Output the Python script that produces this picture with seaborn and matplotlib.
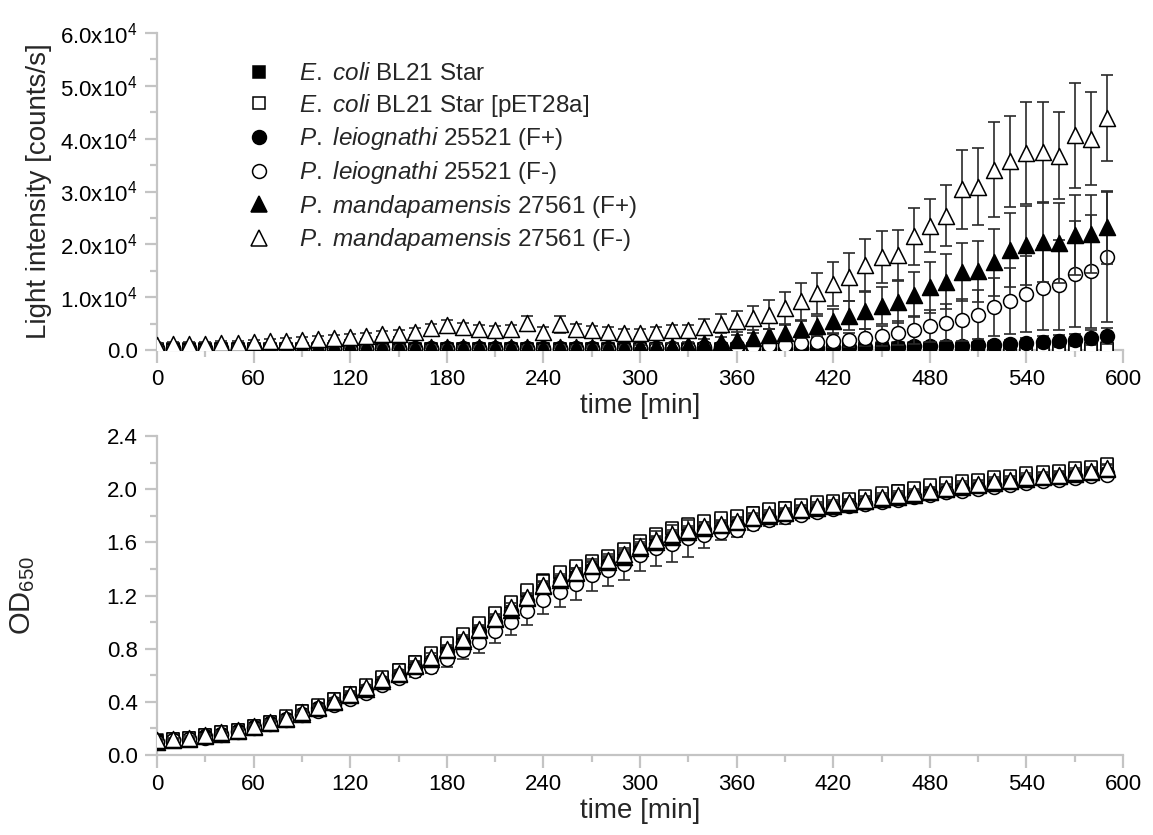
import matplotlib
matplotlib.use("Agg")
import matplotlib.pyplot as plt
import seaborn as sns
from matplotlib.lines import Line2D
from matplotlib.ticker import MultipleLocator, FuncFormatter

# ---------------- data ----------------
time = [0, 10, 20, 30, 40, 50, 60, 70, 80, 90,
        100, 110, 120, 130, 140, 150, 160, 170, 180, 190,
        200, 210, 220, 230, 240, 250, 260, 270, 280, 290,
        300, 310, 320, 330, 340, 350, 360, 370, 380, 390,
        400, 410, 420, 430, 440, 450, 460, 470, 480, 490,
        500, 510, 520, 530, 540, 550, 560, 570, 580, 590]

labels = [r"$\mathit{E.}$ $\mathit{coli}$ BL21 Star",
          r"$\mathit{E.}$ $\mathit{coli}$ BL21 Star [pET28a]",
          r"$\mathit{P.}$ $\mathit{leiognathi}$ 25521 (F+)",
          r"$\mathit{P.}$ $\mathit{leiognathi}$ 25521 (F-)",
          r"$\mathit{P.}$ $\mathit{mandapamensis}$ 27561 (F+)",
          r"$\mathit{P.}$ $\mathit{mandapamensis}$ 27561 (F-)"]

# Light intensity [counts/s]
li_ec = [250, 200, 200, 200, 200, 200, 200, 200, 200, 200,
         200, 200, 200, 200, 200, 200, 200, 200, 200, 200,
         200, 200, 200, 200, 200, 200, 200, 200, 200, 200,
         200, 200, 200, 200, 200, 200, 200, 200, 200, 200,
         200, 200, 200, 200, 200, 200, 200, 200, 200, 200,
         200, 200, 200, 200, 200, 200, 200, 200, 200, 200]
li_ec_err = [80, 80, 80, 80, 80, 80, 80, 80, 80, 80,
             80, 80, 80, 80, 80, 80, 80, 80, 80, 80,
             80, 80, 80, 80, 80, 80, 80, 80, 80, 80,
             80, 80, 80, 80, 80, 80, 80, 80, 80, 80,
             80, 80, 80, 80, 80, 80, 80, 80, 80, 80,
             80, 80, 80, 80, 80, 80, 80, 80, 80, 80]
li_ecp = [250, 200, 200, 200, 200, 200, 200, 200, 200, 200,
          200, 200, 200, 200, 200, 200, 200, 200, 200, 200,
          200, 200, 200, 200, 200, 200, 200, 200, 200, 200,
          250, 250, 250, 250, 250, 250, 250, 250, 250, 250,
          300, 300, 300, 300, 300, 300, 300, 300, 350, 350,
          350, 350, 400, 400, 400, 400, 400, 400, 400, 400]
li_ecp_err = [100, 100, 100, 100, 100, 100, 100, 100, 100, 100,
              100, 100, 100, 100, 100, 100, 100, 100, 100, 100,
              100, 100, 100, 100, 100, 100, 100, 100, 100, 100,
              100, 100, 100, 100, 100, 100, 100, 100, 100, 100,
              100, 100, 100, 100, 100, 100, 100, 100, 100, 100,
              100, 100, 100, 100, 100, 100, 100, 100, 100, 100]
li_plfp = [300, 300, 300, 300, 300, 300, 300, 300, 300, 300,
           300, 300, 300, 300, 300, 300, 300, 300, 300, 300,
           300, 300, 300, 300, 300, 300, 300, 300, 300, 300,
           350, 350, 350, 350, 350, 400, 400, 400, 400, 450,
           450, 450, 500, 500, 550, 600, 650, 700, 750, 800,
           850, 900, 1000, 1100, 1400, 1600, 1700, 1900, 2300, 2600]
li_plfp_err = [100, 100, 100, 100, 100, 100, 100, 100, 100, 100,
               100, 100, 100, 100, 100, 100, 100, 100, 100, 100,
               100, 100, 100, 100, 100, 100, 100, 100, 100, 100,
               100, 100, 100, 100, 100, 100, 100, 120, 120, 130,
               150, 150, 200, 200, 250, 300, 300, 350, 400, 500,
               500, 600, 700, 800, 900, 1000, 1100, 1200, 1400, 1500]
li_plfm = [200, 200, 200, 200, 200, 200, 200, 200, 200, 200,
           200, 200, 200, 200, 200, 200, 250, 250, 250, 250,
           250, 250, 250, 250, 250, 250, 250, 250, 250, 250,
           300, 300, 400, 400, 500, 600, 700, 800, 900, 1000,
           1300, 1500, 1800, 1900, 2300, 2700, 3200, 3800, 4600, 5200,
           5700, 6700, 8100, 9300, 10600, 11700, 12300, 14400, 14900, 17600]
li_plfm_err = [100, 100, 100, 100, 100, 100, 100, 100, 100, 100,
               100, 100, 100, 100, 100, 100, 100, 100, 100, 100,
               100, 100, 100, 100, 100, 100, 100, 100, 100, 100,
               200, 200, 250, 300, 350, 400, 450, 500, 600, 700,
               900, 1000, 1200, 1300, 1600, 1900, 2200, 2600, 3000, 3500,
               4000, 4600, 5500, 6300, 7200, 8000, 8500, 10000, 10700, 12300]
li_pmfp = [600, 600, 600, 600, 600, 600, 600, 600, 600, 600,
           600, 600, 600, 600, 600, 600, 650, 650, 650, 650,
           650, 650, 650, 650, 650, 650, 650, 650, 650, 650,
           700, 750, 850, 1000, 1300, 1600, 1900, 2300, 2800, 3300,
           3900, 4600, 5500, 6500, 7400, 8400, 9100, 10500, 11900, 12900,
           14700, 14900, 16600, 19000, 19800, 20500, 20200, 21800, 22000, 23200]
li_pmfp_err = [200, 200, 200, 200, 200, 200, 200, 200, 200, 200,
               200, 200, 200, 200, 200, 200, 200, 200, 200, 200,
               200, 200, 200, 200, 200, 200, 200, 200, 200, 200,
               300, 400, 500, 600, 700, 800, 900, 1000, 1200, 1400,
               1600, 1900, 2200, 2700, 3500, 3500, 3900, 4300, 4800, 5200,
               5500, 5800, 6300, 7000, 7400, 7600, 7600, 7600, 7400, 6900]
li_pmfm = [1000, 1100, 1100, 1200, 1300, 1400, 1500, 1700, 1700, 1900,
           2100, 2300, 2400, 2700, 3000, 3100, 3500, 4100, 4700, 4300,
           3900, 3800, 3900, 5200, 3500, 4900, 3900, 3700, 3500, 3200,
           3200, 3500, 3800, 3800, 4400, 5000, 5400, 6000, 6700, 8000,
           9200, 10700, 12500, 13800, 16100, 17600, 18000, 21500, 23500, 25400,
           30400, 30900, 34100, 35700, 37300, 37400, 36800, 40600, 40000, 43900]
li_pmfm_err = [400, 400, 400, 400, 400, 400, 450, 450, 500, 500,
               500, 500, 550, 600, 600, 650, 700, 800, 900, 900,
               800, 800, 900, 1300, 900, 1600, 1000, 900, 800, 700,
               700, 800, 900, 1000, 1500, 1800, 2000, 2300, 2700, 3000,
               3500, 3800, 4100, 4500, 5000, 4900, 4800, 5400, 5000, 5800,
               7500, 7300, 9000, 8600, 9600, 9500, 8300, 10000, 8800, 8200]

# OD650
od_ec = [0.11, 0.12, 0.13, 0.15, 0.17, 0.19, 0.22, 0.25, 0.28, 0.33,
         0.37, 0.42, 0.47, 0.52, 0.58, 0.64, 0.70, 0.76, 0.83, 0.90,
         0.98, 1.06, 1.14, 1.23, 1.32, 1.37, 1.41, 1.455, 1.49, 1.54,
         1.60, 1.655, 1.70, 1.73, 1.755, 1.77, 1.79, 1.82, 1.84, 1.855,
         1.87, 1.89, 1.905, 1.92, 1.94, 1.96, 1.99, 2.005, 2.02, 2.04,
         2.05, 2.065, 2.08, 2.095, 2.105, 2.12, 2.13, 2.145, 2.16, 2.18]
od_ec_err = [0.01, 0.01, 0.01, 0.01, 0.01, 0.01, 0.01, 0.01, 0.01, 0.01,
             0.01, 0.01, 0.01, 0.01, 0.01, 0.02, 0.02, 0.02, 0.02, 0.02,
             0.02, 0.02, 0.02, 0.02, 0.02, 0.02, 0.02, 0.02, 0.02, 0.02,
             0.02, 0.02, 0.02, 0.02, 0.02, 0.02, 0.02, 0.02, 0.02, 0.02,
             0.02, 0.02, 0.02, 0.02, 0.02, 0.02, 0.02, 0.02, 0.02, 0.02,
             0.02, 0.02, 0.02, 0.02, 0.02, 0.02, 0.02, 0.02, 0.02, 0.02]
od_ecp = [0.10, 0.12, 0.13, 0.15, 0.17, 0.19, 0.22, 0.25, 0.29, 0.33,
          0.38, 0.42, 0.47, 0.53, 0.59, 0.64, 0.70, 0.77, 0.84, 0.91,
          0.99, 1.07, 1.15, 1.24, 1.31, 1.38, 1.42, 1.46, 1.50, 1.55,
          1.61, 1.66, 1.71, 1.74, 1.76, 1.78, 1.80, 1.82, 1.85, 1.86,
          1.88, 1.90, 1.91, 1.93, 1.95, 1.97, 1.99, 2.01, 2.03, 2.05,
          2.06, 2.07, 2.09, 2.10, 2.12, 2.13, 2.14, 2.16, 2.17, 2.19]
od_ecp_err = [0.01, 0.01, 0.01, 0.01, 0.01, 0.01, 0.01, 0.01, 0.01, 0.01,
              0.01, 0.01, 0.01, 0.02, 0.02, 0.02, 0.02, 0.02, 0.02, 0.02,
              0.02, 0.02, 0.02, 0.03, 0.03, 0.03, 0.03, 0.03, 0.03, 0.03,
              0.03, 0.03, 0.03, 0.03, 0.03, 0.03, 0.03, 0.03, 0.03, 0.03,
              0.03, 0.03, 0.03, 0.03, 0.03, 0.03, 0.03, 0.03, 0.03, 0.03,
              0.03, 0.03, 0.03, 0.03, 0.03, 0.03, 0.03, 0.03, 0.03, 0.03]
od_plfp = [0.10, 0.11, 0.12, 0.14, 0.16, 0.18, 0.21, 0.24, 0.27, 0.31,
           0.35, 0.39, 0.44, 0.49, 0.55, 0.60, 0.66, 0.71, 0.78, 0.85,
           0.93, 1.00, 1.08, 1.16, 1.25, 1.30, 1.35, 1.40, 1.44, 1.48,
           1.54, 1.59, 1.63, 1.66, 1.69, 1.71, 1.73, 1.76, 1.78, 1.80,
           1.82, 1.84, 1.86, 1.88, 1.89, 1.91, 1.93, 1.95, 1.97, 1.98,
           2.00, 2.01, 2.03, 2.04, 2.06, 2.07, 2.08, 2.10, 2.11, 2.12]
od_plfp_err = [0.01, 0.01, 0.01, 0.01, 0.01, 0.01, 0.01, 0.01, 0.01, 0.02,
               0.02, 0.02, 0.02, 0.02, 0.03, 0.03, 0.03, 0.03, 0.03, 0.04,
               0.04, 0.04, 0.04, 0.05, 0.05, 0.05, 0.05, 0.05, 0.05, 0.05,
               0.05, 0.05, 0.05, 0.05, 0.04, 0.04, 0.04, 0.04, 0.04, 0.04,
               0.04, 0.04, 0.04, 0.04, 0.04, 0.04, 0.04, 0.04, 0.04, 0.04,
               0.04, 0.04, 0.04, 0.04, 0.04, 0.04, 0.04, 0.04, 0.04, 0.04]
od_plfm = [0.10, 0.11, 0.12, 0.13, 0.15, 0.17, 0.20, 0.23, 0.26, 0.30,
           0.33, 0.38, 0.42, 0.47, 0.53, 0.58, 0.63, 0.665, 0.72, 0.79,
           0.85, 0.93, 1.00, 1.08, 1.17, 1.23, 1.29, 1.355, 1.39, 1.44,
           1.505, 1.555, 1.59, 1.63, 1.655, 1.68, 1.69, 1.74, 1.77, 1.79,
           1.806, 1.83, 1.85, 1.87, 1.89, 1.905, 1.92, 1.94, 1.96, 1.98,
           1.99, 2.00, 2.02, 2.03, 2.05, 2.06, 2.07, 2.085, 2.10, 2.11]
od_plfm_err = [0.01, 0.01, 0.01, 0.01, 0.01, 0.01, 0.01, 0.01, 0.02, 0.02,
               0.02, 0.02, 0.02, 0.03, 0.03, 0.04, 0.04, 0.05, 0.06, 0.07,
               0.08, 0.09, 0.10, 0.10, 0.11, 0.12, 0.12, 0.12, 0.12, 0.12,
               0.12, 0.13, 0.14, 0.14, 0.10, 0.06, 0.05, 0.05, 0.05, 0.05,
               0.04, 0.04, 0.04, 0.04, 0.04, 0.04, 0.04, 0.03, 0.03, 0.03,
               0.03, 0.03, 0.03, 0.03, 0.03, 0.03, 0.03, 0.03, 0.03, 0.03]
od_pmfp = [0.10, 0.11, 0.12, 0.14, 0.16, 0.18, 0.21, 0.24, 0.27, 0.31,
           0.35, 0.40, 0.45, 0.50, 0.56, 0.61, 0.67, 0.72, 0.79, 0.86,
           0.94, 1.02, 1.09, 1.18, 1.27, 1.32, 1.37, 1.42, 1.455, 1.49,
           1.555, 1.605, 1.64, 1.68, 1.705, 1.73, 1.75, 1.78, 1.80, 1.82,
           1.84, 1.86, 1.875, 1.89, 1.91, 1.925, 1.94, 1.96, 1.98, 2.00,
           2.015, 2.03, 2.045, 2.06, 2.075, 2.09, 2.10, 2.115, 2.13, 2.15]
od_pmfp_err = [0.01, 0.01, 0.01, 0.01, 0.01, 0.01, 0.01, 0.01, 0.01, 0.01,
               0.02, 0.02, 0.02, 0.02, 0.02, 0.02, 0.02, 0.02, 0.03, 0.03,
               0.03, 0.03, 0.03, 0.03, 0.03, 0.03, 0.03, 0.03, 0.03, 0.03,
               0.03, 0.03, 0.03, 0.03, 0.03, 0.03, 0.03, 0.03, 0.03, 0.03,
               0.03, 0.03, 0.03, 0.03, 0.03, 0.03, 0.03, 0.03, 0.03, 0.03,
               0.03, 0.03, 0.03, 0.03, 0.03, 0.03, 0.03, 0.03, 0.03, 0.03]
od_pmfm = [0.11, 0.12, 0.13, 0.15, 0.17, 0.19, 0.22, 0.25, 0.28, 0.32,
           0.36, 0.41, 0.46, 0.51, 0.57, 0.62, 0.68, 0.74, 0.80, 0.87,
           0.95, 1.03, 1.11, 1.19, 1.28, 1.33, 1.38, 1.43, 1.47, 1.51,
           1.57, 1.62, 1.66, 1.69, 1.72, 1.74, 1.76, 1.79, 1.81, 1.83,
           1.85, 1.87, 1.89, 1.90, 1.92, 1.94, 1.96, 1.97, 1.99, 2.01,
           2.03, 2.04, 2.06, 2.07, 2.09, 2.10, 2.11, 2.13, 2.14, 2.16]
od_pmfm_err = [0.01, 0.01, 0.01, 0.01, 0.01, 0.01, 0.01, 0.01, 0.01, 0.02,
               0.02, 0.02, 0.02, 0.02, 0.02, 0.02, 0.03, 0.03, 0.03, 0.03,
               0.03, 0.03, 0.03, 0.03, 0.03, 0.03, 0.03, 0.03, 0.03, 0.03,
               0.03, 0.03, 0.03, 0.03, 0.03, 0.03, 0.03, 0.03, 0.03, 0.03,
               0.03, 0.03, 0.03, 0.03, 0.03, 0.03, 0.03, 0.03, 0.03, 0.03,
               0.03, 0.03, 0.03, 0.03, 0.03, 0.03, 0.03, 0.03, 0.03, 0.03]

li_series = [(li_ec, li_ec_err), (li_ecp, li_ecp_err), (li_plfp, li_plfp_err),
             (li_plfm, li_plfm_err), (li_pmfp, li_pmfp_err), (li_pmfm, li_pmfm_err)]
od_series = [(od_ec, od_ec_err), (od_ecp, od_ecp_err), (od_plfp, od_plfp_err),
             (od_plfm, od_plfm_err), (od_pmfp, od_pmfp_err), (od_pmfm, od_pmfm_err)]

# ---------------- styles ----------------
markers = ["s", "s", "o", "o", "^", "^"]
faces = ["black", "white", "black", "white", "black", "white"]
msizes = [9, 9, 10, 10, 11.5, 11.5]

sns.set_theme(style="ticks")
plt.rcParams["font.family"] = ["Liberation Sans", "DejaVu Sans"]
plt.rcParams["mathtext.fontset"] = "custom"
plt.rcParams["mathtext.rm"] = "Liberation Sans"
plt.rcParams["mathtext.it"] = "Liberation Sans:italic"
plt.rcParams["mathtext.bf"] = "Liberation Sans:bold"

fig = plt.figure(figsize=(11.53, 8.35), dpi=100)
ax1 = fig.add_axes([0.1362, 0.5808, 0.8378, 0.3797])
ax2 = fig.add_axes([0.1362, 0.0958, 0.8378, 0.3820])

spine_col = "#c4c4c4"


def draw(ax, series):
    for i, (vals, errs) in enumerate(series):
        z = 3 + i
        ax.errorbar(time, vals, yerr=errs, fmt="none", ecolor="#2a2a2a",
                    elinewidth=1.2, capsize=4.5, capthick=1.2, zorder=z)
        sns.scatterplot(x=time, y=vals, marker=markers[i], s=msizes[i] ** 2,
                        color=faces[i], edgecolor="black", linewidth=1.1,
                        ax=ax, zorder=z + 0.5, legend=False)


draw(ax1, li_series)
draw(ax2, od_series)

for ax in (ax1, ax2):
    sns.despine(ax=ax)
    ax.set_xlim(0, 600)
    ax.xaxis.set_major_locator(MultipleLocator(60))
    ax.xaxis.set_minor_locator(MultipleLocator(30))
    for s in ("left", "bottom"):
        ax.spines[s].set_color(spine_col)
        ax.spines[s].set_linewidth(1.6)
    ax.tick_params(which="major", direction="out", length=9, width=1.6,
                   color=spine_col, labelsize=16, labelcolor="black", pad=5)
    ax.tick_params(which="minor", direction="out", length=5, width=1.6,
                   color=spine_col)
    ax.set_xlabel("time [min]", fontsize=20, labelpad=2)

ax1.set_ylim(0, 60000)
ax1.yaxis.set_major_locator(MultipleLocator(10000))
ax1.yaxis.set_minor_locator(MultipleLocator(5000))
ax1.yaxis.set_major_formatter(FuncFormatter(
    lambda v, p: "0.0" if abs(v) < 1e-9 else "%.1fx10$^{4}$" % (v / 1e4)))
ax1.set_ylabel("Light intensity [counts/s]", fontsize=20, labelpad=6)

ax2.set_ylim(0, 2.4)
ax2.yaxis.set_major_locator(MultipleLocator(0.4))
ax2.yaxis.set_minor_locator(MultipleLocator(0.2))
ax2.yaxis.set_major_formatter(FuncFormatter(lambda v, p: "%.1f" % v))
ax2.set_ylabel("OD$_{650}$", fontsize=21, labelpad=50)

handles = [Line2D([], [], linestyle="none", marker=markers[i], markersize=msizes[i],
                  markerfacecolor=faces[i], markeredgecolor="black",
                  markeredgewidth=1.1) for i in range(6)]
ax1.legend(handles, labels, loc="upper left", bbox_to_anchor=(0.083, 0.935),
           frameon=False, fontsize=17.5, handlelength=1.0, handletextpad=1.15,
           labelspacing=0.27, borderaxespad=0)

fig.savefig("out.png", dpi=100)
